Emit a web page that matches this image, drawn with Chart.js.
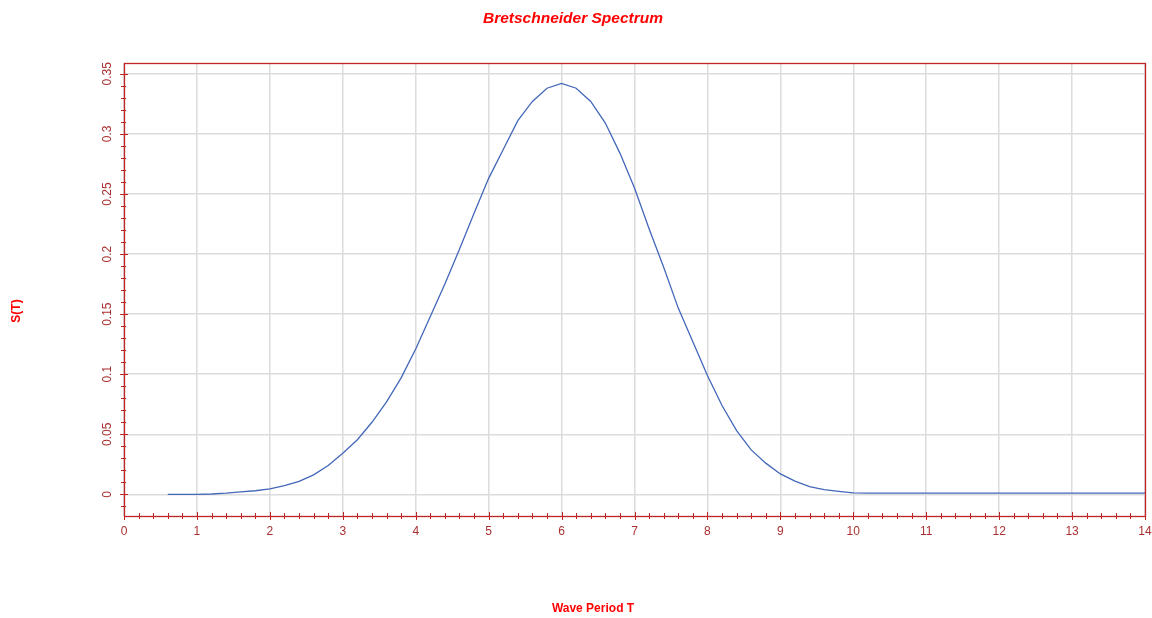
<!DOCTYPE html>
<html>
<head>
<meta charset="utf-8">
<title>Bretschneider Spectrum</title>
<script src="https://cdn.jsdelivr.net/npm/chart.js@4.4.1/dist/chart.umd.min.js"></script>
<style>
    body { margin: 0; background: #ffffff; }
    canvas { display: block; }
</style>
</head>
<body>
<canvas id="spectrum" width="1152" height="618"></canvas>
<script>
// Wave period T (s)
const periods = [
    0.6, 0.8, 1.0, 1.2, 1.4, 1.6, 1.8, 2.0, 2.2, 2.4, 2.6, 2.8,
    3.0, 3.2, 3.4, 3.6, 3.8, 4.0, 4.2, 4.4, 4.6, 4.8,
    5.0, 5.2, 5.4, 5.6, 5.8, 6.0, 6.2, 6.4, 6.6, 6.8,
    7.0, 7.2, 7.4, 7.6, 7.8, 8.0, 8.2, 8.4, 8.6, 8.8,
    9.0, 9.2, 9.4, 9.6, 9.8, 10.0, 10.2, 10.4, 10.6, 10.8,
    11.0, 11.2, 11.4, 11.6, 11.8, 12.0, 12.2, 12.4, 12.6, 12.8,
    13.0, 13.2, 13.4, 13.6, 13.8, 14.0
];

// S(T)
const spectrum = [
    0, 0, 0, 0.0003, 0.001, 0.002, 0.003, 0.0045, 0.0072, 0.0108, 0.0162, 0.024,
    0.0342, 0.0455, 0.06, 0.077, 0.097, 0.121, 0.148, 0.175, 0.204, 0.234,
    0.263, 0.287, 0.311, 0.327, 0.338, 0.342, 0.338, 0.327, 0.309, 0.284,
    0.255, 0.221, 0.189, 0.155, 0.127, 0.099, 0.074, 0.053, 0.037, 0.026,
    0.017, 0.011, 0.0065, 0.004, 0.0025, 0.0012, 0.001, 0.001, 0.001, 0.001,
    0.001, 0.001, 0.001, 0.001, 0.001, 0.001, 0.001, 0.001, 0.001, 0.001,
    0.001, 0.001, 0.001, 0.001, 0.001, 0.001
];

const xTicks = [0, 1, 2, 3, 4, 5, 6, 7, 8, 9, 10, 11, 12, 13, 14];
const yTicks = [0, 0.05, 0.1, 0.15, 0.2, 0.25, 0.3, 0.35];
const yTickLabels = ['0', '0.05', '0.1', '0.15', '0.2', '0.25', '0.3', '0.35'];

const axisColor = '#c02424';
const labelColor = '#a93030';
const font = '"Liberation Sans", Arial, sans-serif';

// frame, tick marks, tick labels and titles
const axesPlugin = {
    id: 'axesDecor',
    afterDraw(chart) {
        const ctx = chart.ctx;
        const area = chart.chartArea;
        const xs = chart.scales.x;
        const ys = chart.scales.y;
        ctx.save();

        ctx.strokeStyle = axisColor;
        ctx.lineWidth = 1.3;
        ctx.strokeRect(area.left + 0.5, area.top + 0.5, area.right - area.left, area.bottom - area.top);

        // x ticks, minor every 0.2
        ctx.lineWidth = 1;
        ctx.beginPath();
        for (let i = 0; i <= 70; i++) {
            const px = Math.round(xs.getPixelForValue(i * 0.2)) + 0.5;
            const major = i % 5 === 0;
            ctx.moveTo(px, area.bottom - (major ? 4 : 3));
            ctx.lineTo(px, area.bottom + (major ? 4 : 3));
        }
        // y ticks, minor every 0.01
        for (let i = -1; i <= 35; i++) {
            const py = Math.round(ys.getPixelForValue(i * 0.01)) + 0.5;
            const major = i >= 0 && i % 5 === 0;
            ctx.moveTo(area.left - (major ? 4 : 3), py);
            ctx.lineTo(area.left + (major ? 4 : 2), py);
        }
        ctx.stroke();

        ctx.fillStyle = labelColor;
        ctx.font = '12px ' + font;
        ctx.textAlign = 'center';
        ctx.textBaseline = 'middle';
        xTicks.forEach(v => {
            ctx.fillText(String(v), xs.getPixelForValue(v), area.bottom + 16);
        });
        yTicks.forEach((v, i) => {
            ctx.save();
            ctx.translate(area.left - 16, ys.getPixelForValue(v));
            ctx.rotate(-Math.PI / 2);
            ctx.fillText(yTickLabels[i], 0, 0);
            ctx.restore();
        });

        // titles
        ctx.fillStyle = '#ff0000';
        ctx.font = 'italic bold 15.5px ' + font;
        ctx.fillText('Bretschneider Spectrum', 573, 19);
        ctx.font = 'bold 12px ' + font;
        ctx.fillText('Wave Period T', 593, 609);
        ctx.save();
        ctx.translate(17, 311);
        ctx.rotate(-Math.PI / 2);
        ctx.fillText('S(T)', 0, 0);
        ctx.restore();

        ctx.restore();
    }
};

new Chart(document.getElementById('spectrum'), {
    type: 'line',
    data: {
        datasets: [{
            data: periods.map((t, i) => ({ x: t, y: spectrum[i] })),
            borderColor: '#4367b9',
            borderWidth: 1.3,
            pointRadius: 0,
            tension: 0,
            fill: false
        }]
    },
    options: {
        responsive: false,
        devicePixelRatio: 1,
        animation: false,
        layout: {
            padding: { left: 124, top: 63, right: 7, bottom: 102 }
        },
        plugins: {
            legend: { display: false },
            title: { display: false },
            tooltip: { enabled: false }
        },
        scales: {
            x: {
                type: 'linear',
                min: 0,
                max: 14,
                afterBuildTicks: scale => { scale.ticks = xTicks.map(v => ({ value: v })); },
                afterFit: scale => { scale.height = 0; },
                ticks: { display: false },
                border: { display: false },
                grid: { color: '#dcdcdc', lineWidth: 1.5, drawTicks: false }
            },
            y: {
                min: -0.018,
                max: 0.359,
                afterBuildTicks: scale => { scale.ticks = yTicks.map(v => ({ value: v })); },
                afterFit: scale => { scale.width = 0; },
                ticks: { display: false },
                border: { display: false },
                grid: { color: '#dcdcdc', lineWidth: 1.5, drawTicks: false }
            }
        }
    },
    plugins: [axesPlugin]
});
</script>
</body>
</html>
